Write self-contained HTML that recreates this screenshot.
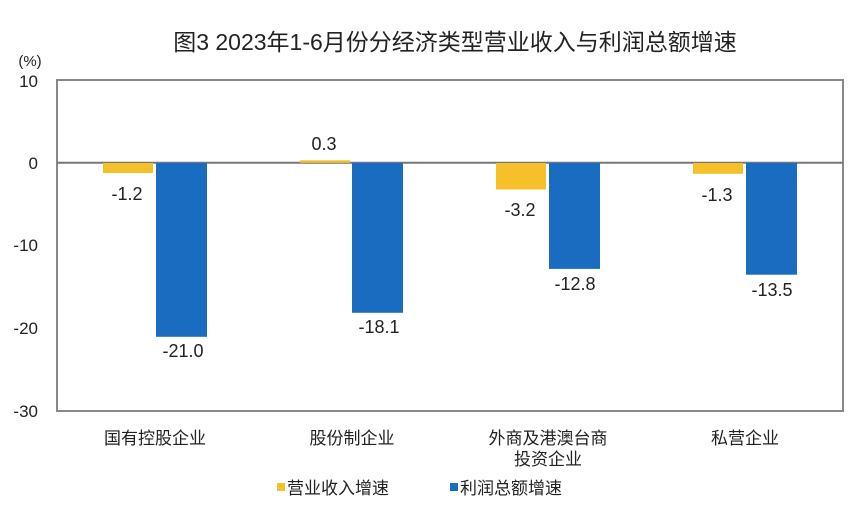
<!DOCTYPE html>
<html><head><meta charset="utf-8"><style>
body{margin:0;background:#fff;}
svg text{font-family:"Liberation Sans","Noto Sans CJK SC",sans-serif;fill:#222;}
</style></head><body>
<svg width="862" height="524" xmlns="http://www.w3.org/2000/svg">
<text x="455" y="50" font-size="23" text-anchor="middle">图3  2023年1-6月份分经济类型营业收入与利润总额增速</text>
<text x="30" y="66" font-size="15" text-anchor="middle">(%)</text>
<g font-size="17" text-anchor="end">
<text x="38" y="87">10</text><text x="38" y="169">0</text><text x="38" y="251">-10</text><text x="38" y="334">-20</text><text x="38" y="417">-30</text>
</g>
<rect x="57" y="80" width="786" height="331" fill="none" stroke="#888" stroke-width="2"/>
<line x1="57" y1="162.75" x2="843" y2="162.75" stroke="#777" stroke-width="2"/>
<g fill="#f5c02a">
<rect x="103" y="163" width="50" height="10"/>
<rect x="300" y="160.3" width="50" height="2.5"/>
<rect x="496" y="163" width="50" height="26.5"/>
<rect x="693" y="163" width="50" height="10.8"/>
</g>
<g fill="#1a6cc0">
<rect x="156" y="163" width="51" height="173.8"/>
<rect x="352" y="163" width="51" height="149.8"/>
<rect x="549" y="163" width="51" height="105.9"/>
<rect x="746" y="163" width="51" height="111.7"/>
</g>
<g font-size="18" text-anchor="middle">
<text x="127" y="200">-1.2</text>
<text x="324" y="150">0.3</text>
<text x="520" y="216">-3.2</text>
<text x="717" y="201">-1.3</text>
<text x="183" y="357">-21.0</text>
<text x="379" y="333">-18.1</text>
<text x="575" y="290">-12.8</text>
<text x="772" y="296">-13.5</text>
</g>
<g font-size="17" text-anchor="middle">
<text x="155" y="444">国有控股企业</text>
<text x="352" y="444">股份制企业</text>
<text x="548" y="444">外商及港澳台商</text>
<text x="548" y="465">投资企业</text>
<text x="745" y="444">私营企业</text>
</g>
<rect x="277" y="483" width="8" height="8" fill="#f5c02a"/>
<text x="287" y="494" font-size="17">营业收入增速</text>
<rect x="450" y="483" width="8" height="8" fill="#1a6cc0"/>
<text x="460" y="494" font-size="17">利润总额增速</text>
</svg>
</body></html>
